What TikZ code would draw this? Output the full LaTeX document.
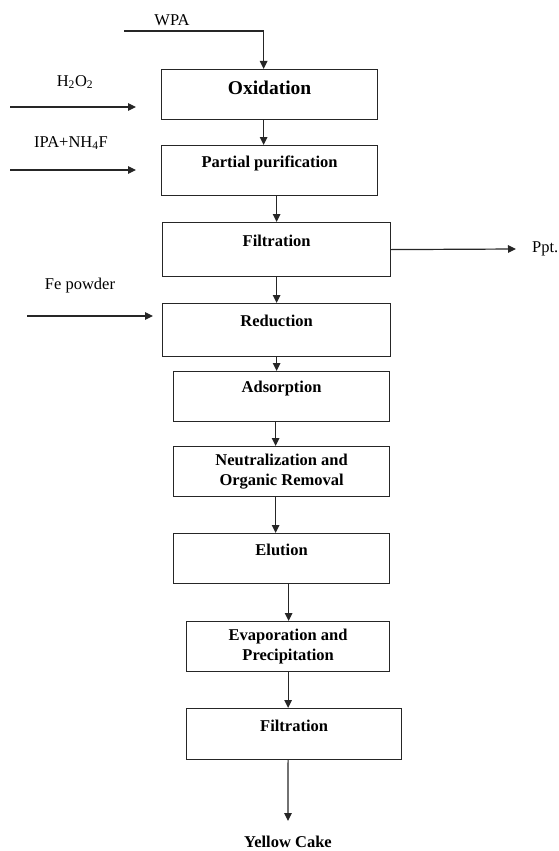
\documentclass[tikz,border=0pt]{standalone}
\usepackage{fontspec}
\setmainfont{Liberation Serif}
\usetikzlibrary{arrows.meta}
\begin{document}
\begin{tikzpicture}[x=1pt,y=-1pt,
 box/.style={draw=black!85, line width=1.2pt, inner xsep=0pt, inner ysep=0pt,
   font=\bfseries\fontsize{16.5}{20}\selectfont, anchor=north west},
 arr/.style={draw=black!85, line width=1.2pt, -{Triangle[length=8pt,width=7.5pt]}},
 lbl/.style={font=\fontsize{16.5}{20}\selectfont, inner sep=0pt}]
\useasboundingbox (0,0) rectangle (558,851);

% process boxes
\node[box, minimum width=216pt, text height=25pt, text depth=25pt,
  font=\bfseries\fontsize{19.5}{22}\selectfont] (ox) at (161,69) {Oxidation};
\node[box, minimum width=216pt, text height=22pt, text depth=28pt] (pp) at (161,145) {Partial purification};
\node[box, minimum width=228pt, text height=24pt, text depth=30pt] (f1) at (162,222) {Filtration};
\node[box, minimum width=228pt, text height=23pt, text depth=30pt] (red) at (162,303) {Reduction};
\node[box, minimum width=216pt, text height=21pt, text depth=29pt] (ads) at (173,371) {Adsorption};
\node[box, minimum width=216pt, minimum height=50pt, align=center] (neu) at (173,446) {Neutralization and\\Organic Removal};
\node[box, minimum width=216pt, text height=22pt, text depth=28pt] (elu) at (173,533) {Elution};
\node[box, minimum width=203pt, minimum height=50pt, align=center] (ev) at (186,621) {Evaporation and\\Precipitation};
\node[box, minimum width=215pt, text height=23pt, text depth=28pt] (f2) at (186,708) {Filtration};

% side labels
\node[lbl] (wpa) at (172,20) {WPA};
\node[lbl] (h2o2) at (75,82) {H\textsubscript{2}O\textsubscript{2}};
\node[lbl] (ipa) at (71,143) {IPA+NH\textsubscript{4}F};
\node[lbl, anchor=west] (ppt) at (532,249) {Ppt.};
\node[lbl] (fe) at (80,286) {Fe powder};
\node[lbl, font=\bfseries\fontsize{16.5}{20}\selectfont] (yc) at (288,842) {Yellow Cake};

% free ends
\coordinate (wpa0) at (124,31);
\coordinate (h0) at (10,107);
\coordinate (h1) at (136,107);
\coordinate (i0) at (10,170);
\coordinate (i1) at (136,170);
\coordinate (fe0) at (27,316);
\coordinate (fe1) at (153,316);
\coordinate (pp1) at (516,249);
\coordinate (yc0) at (288,821);

% connectors
\draw[arr] (wpa0) -| ([xshift=-6pt]ox.north);
\draw[arr] (h0) -- (h1);
\draw[arr] (i0) -- (i1);
\draw[arr] (fe0) -- (fe1);
\draw[arr] ([xshift=-6pt]ox.south) -- ([xshift=-6pt]pp.north);
\draw[arr] ([xshift=7pt]pp.south) -- (f1.north);
\draw[arr] (f1.east) -- (pp1);
\draw[arr] (f1.south) -- (red.north);
\draw[arr] (red.south) -- (red.south |- ads.north);
\draw[arr] ([xshift=-6pt]ads.south) -- ([xshift=-6pt]neu.north);
\draw[arr] ([xshift=-6pt]neu.south) -- ([xshift=-6pt]elu.north);
\draw[arr] ([xshift=7pt]elu.south) -- ([xshift=7pt]elu.south |- ev.north);
\draw[arr] (ev.south) -- (ev.south |- f2.north);
\draw[arr] (ev.south |- f2.south) -- (yc0);
\end{tikzpicture}
\end{document}
